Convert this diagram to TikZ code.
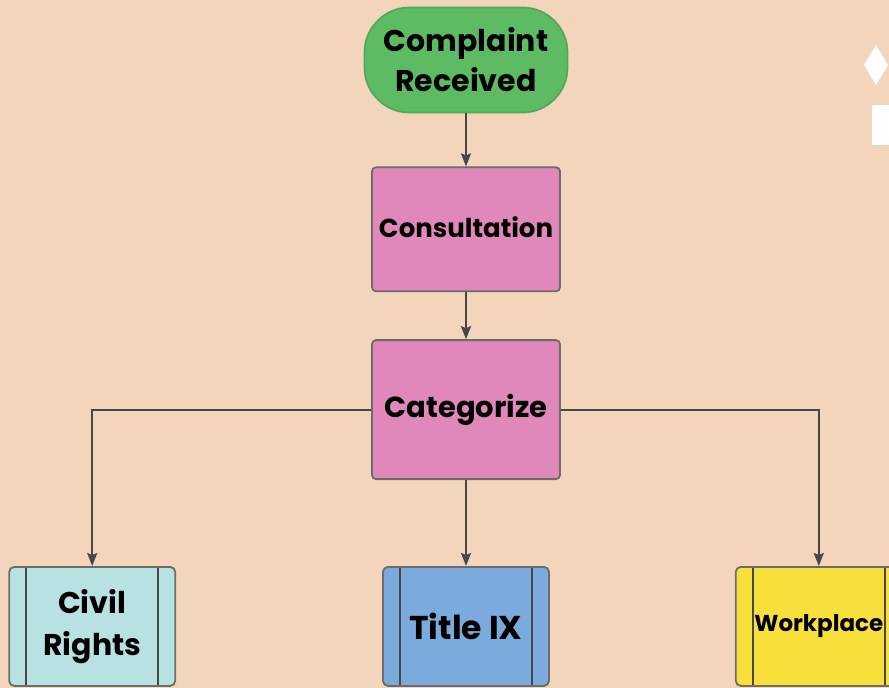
\documentclass[tikz,border=0pt]{standalone}
\usepackage{fontspec}
\setmainfont{Poppins}
\usetikzlibrary{positioning, arrows.meta}

\definecolor{peach}{HTML}{F3D5BB}
\definecolor{startgreen}{HTML}{5DBB63}
\definecolor{stepfill}{HTML}{E088B9}
\definecolor{civilfill}{HTML}{B8E2E2}
\definecolor{titlefill}{HTML}{7BABDD}
\definecolor{workfill}{HTML}{F8E03C}
\definecolor{edgegray}{HTML}{474747}

\tikzset{
    start/.style={draw=startgreen!90!black, fill=startgreen, rounded corners=45pt,
        minimum width=203pt, minimum height=105pt, inner sep=0pt, align=center,
        font=\fontsize{30}{40}\selectfont\bfseries},
    stepbox/.style={draw=edgegray!80, fill=stepfill, rounded corners=4pt,
        minimum width=188pt, inner sep=0pt, align=center},
    process/.style={draw=edgegray!80, fill=#1, rounded corners=5pt,
        minimum width=166pt, minimum height=119pt, inner sep=0pt, align=center,
        path picture={
            \draw[edgegray, line width=1.8pt]
                ([xshift=17pt]path picture bounding box.north west) --
                ([xshift=17pt]path picture bounding box.south west)
                ([xshift=-17pt]path picture bounding box.north east) --
                ([xshift=-17pt]path picture bounding box.south east);
        }},
    flow/.style={-{Stealth[length=13pt, width=10pt, inset=2pt]}, edgegray, line width=2pt},
}

\begin{document}
\begin{tikzpicture}[x=1pt, y=-1pt, line width=1.8pt]
            \fill[peach] (0,0) rectangle (889,688);
            \useasboundingbox (0,0) rectangle (889,688);
            % decoration at the right edge
            \fill[white] (876,45) -- (888,65) -- (876,85) -- (864,65) -- cycle;
            \fill[white] (872,105) rectangle (892,145);
            \node[start] (0) at (466, 60) {Complaint\\Received};
            \node[stepbox, minimum height=124pt, below=53pt of 0, font=\fontsize{26}{32}\selectfont\bfseries] (1) {\raisebox{5pt}{Consultation}};
            \node[stepbox, minimum height=139pt, below=47pt of 1, font=\fontsize{29}{36}\selectfont\bfseries] (2) {\raisebox{4pt}{Categorize}};
            \node[process=titlefill, below=86pt of 2, font=\fontsize{33}{40}\selectfont\bfseries] (4) {Title IX};
            \node[process=civilfill, left=206pt of 4, font=\fontsize{30}{42}\selectfont\bfseries] (3) {Civil\\Rights};
            \node[process=workfill, right=185pt of 4, font=\fontsize{23}{28}\selectfont\bfseries] (5) {Workplace};
            \draw[flow] (0) -- (1);
            \draw[flow] (1) -- (2);
            \draw[flow] (2.west) -| (3.north);
            \draw[flow] (2) -- (4);
            \draw[flow] (2.east) -| (5.north);
        \end{tikzpicture}
\end{document}
